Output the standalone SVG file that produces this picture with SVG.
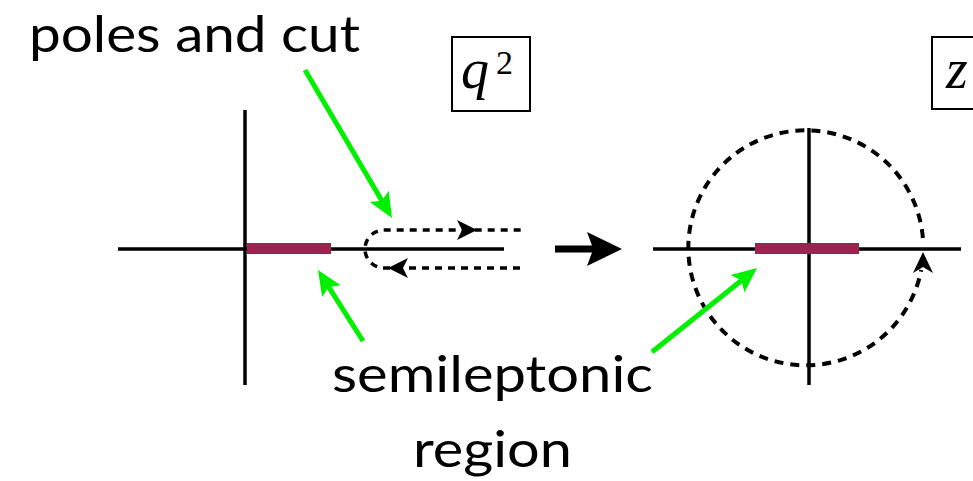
<svg xmlns="http://www.w3.org/2000/svg" width="973" height="481" viewBox="0 0 973 481">
<style>
.axis{stroke:#000;stroke-width:3.5;fill:none}
.cut{stroke:#9B2350;stroke-width:11;fill:none}
.dash{stroke:#000;stroke-width:3.5;fill:none;stroke-dasharray:7 6}
.green{stroke:#00F000;stroke-width:5;fill:none;marker-end:url(#gh)}
.lbl{font-family:Lato,"Open Sans","Liberation Sans",sans-serif;font-size:51px;fill:#000}
.math{font-family:"Liberation Serif","DejaVu Serif",serif;fill:#000}
.box{fill:none;stroke:#000;stroke-width:2}
</style>
<defs>
<marker id="gh" markerUnits="userSpaceOnUse" viewBox="-20 -13 30 26" markerWidth="30" markerHeight="26" refX="0" refY="0" orient="auto">
<path d="M8,0 L-17,-11 L-12,0 L-17,11 Z" fill="#00F000"/>
</marker>
</defs>
<rect width="973" height="481" fill="#fff"/>
<g id="q2-plane">
<line class="axis" x1="118" y1="249" x2="504" y2="249"/>
<line class="axis" x1="245" y1="110" x2="245" y2="385"/>
<line class="cut" x1="247" y1="248.5" x2="331" y2="248.5"/>
<path class="dash" d="M520 268 H384 A19 19 0 0 1 384 230 H525"/>
<polygon points="477,230 457,220 462,230 457,240" fill="#000"/>
<polygon points="388,268 408,258 403,268 408,278" fill="#000"/>
</g>
<g id="q2-box">
<rect class="box" x="452" y="37" width="78" height="74"/>
<text class="math" x="461" y="88" font-size="56" style="font-style:italic">q</text>
<text class="math" x="496" y="74" font-size="34">2</text>
</g>
<g id="map-arrow">
<polygon points="555,245.5 592,245.5 587,232 622,249 587,266 592,252.5 555,252.5" fill="#000"/>
</g>
<g id="z-plane">
<line class="axis" x1="653" y1="249" x2="961" y2="249"/>
<line class="axis" x1="809" y1="128" x2="809" y2="385"/>
<line class="cut" x1="755" y1="248.5" x2="859" y2="248.5"/>
<path class="dash" style="stroke-width:4;stroke-dasharray:9 7" d="M922.9 238 A117.5 117.5 0 1 0 921.2 270"/>
<polygon points="923,252 913,273 923,267 933,273" fill="#000"/>
</g>
<g id="z-box">
<rect class="box" x="932" y="37" width="50" height="72"/>
<text class="math" x="946" y="88" font-size="56" style="font-style:italic">z</text>
</g>
<g id="labels">
<text class="lbl" x="29" y="52" textLength="331" lengthAdjust="spacingAndGlyphs">poles and cut</text>
<text class="lbl" x="332" y="392" textLength="321" lengthAdjust="spacingAndGlyphs">semileptonic</text>
<text class="lbl" x="413" y="467" textLength="159" lengthAdjust="spacingAndGlyphs">region</text>
</g>
<g id="connectors">
<line class="green" x1="305" y1="70" x2="387.9" y2="211.1"/>
<line class="green" x1="363" y1="341" x2="322.3" y2="276.8"/>
<line class="green" x1="652" y1="352" x2="750.8" y2="273"/>
</g>
</svg>
